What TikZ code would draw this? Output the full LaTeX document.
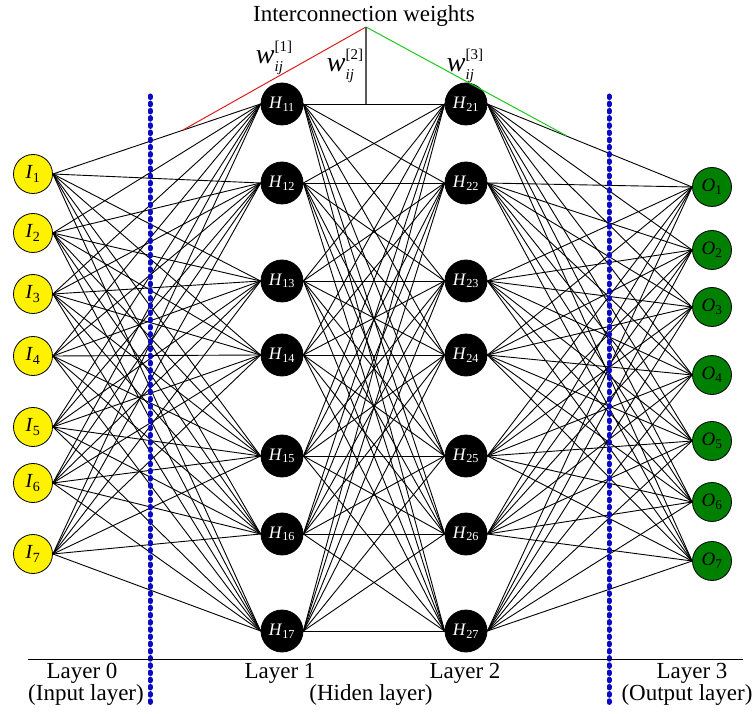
\documentclass[tikz,border=0pt]{standalone}
\usepackage{fontspec}
\setmainfont{Liberation Serif}
\definecolor{sepblue}{RGB}{10,10,195}
\definecolor{wred}{RGB}{220,30,30}
\definecolor{wgreen}{RGB}{30,200,30}
\definecolor{outgreen}{RGB}{0,128,0}
% weight symbol w_{ij}^{[k]} set in text fonts
\newcommand\wlabel[1]{\textit{w}\makebox[0pt][l]{\raisebox{-0.3em}{\fontsize{15}{15}\selectfont\textit{ij}}}\raisebox{0.42em}{\fontsize{15}{15}\selectfont[#1]}}
\begin{document}
\begin{tikzpicture}[x=1pt,y=-1pt,
  neuron/.style={circle,draw=black,line width=0.8pt,inner sep=0pt},
  inp/.style={neuron,fill=yellow,minimum size=39pt,font=\fontsize{20}{20}\selectfont},
  hid/.style={neuron,fill=black,text=white,minimum size=42pt,font=\fontsize{17.5}{17.5}\selectfont},
  outp/.style={neuron,fill=outgreen,minimum size=39pt,font=\fontsize{19}{19}\selectfont},
  link/.style={line width=0.9pt},
  sep/.style={sepblue,line width=5pt,line cap=round,dash pattern=on 1.6pt off 5.6pt},
  lbl/.style={font=\fontsize{23}{23}\selectfont,inner sep=0pt},
  wlbl/.style={font=\fontsize{28}{28}\selectfont,inner sep=0pt}
]
\useasboundingbox (0,0) rectangle (756,714);

% neurons
\foreach \y [count=\i] in {174,233,294,356,427,483,554}
  \node[inp] (I\i) at (33,\y) {\textit{I}\textsubscript{\i}};
\foreach \y [count=\i] in {104,183,281,355,456,534,631}
  \node[hid] (H1\i) at (282,\y) {\textit{H}\textsubscript{1\i}};
\foreach \y [count=\i] in {104,183,281,355,456,534,631}
  \node[hid] (H2\i) at (466,\y) {\textit{H}\textsubscript{2\i}};
\foreach \y [count=\i] in {187,250,307,375,441,502,561}
  \node[outp] (O\i) at (712,\y) {\textit{O}\textsubscript{\i}};

% fully connected layers
\foreach \a in {1,...,7}
  \foreach \b in {1,...,7} {
    \draw[link] (I\a.east) -- (H1\b.west);
    \draw[link] (H1\a.east) -- (H2\b.west);
    \draw[link] (H2\a.east) -- (O\b.west);
  }

% interconnection weights annotation
\node[lbl] (title) at (364,16) {Interconnection weights};
\coordinate (apex) at (366,27);
\coordinate (wend1) at (183,130);
\coordinate (wend3) at (567,136);
\draw[wred,line width=1pt] (apex) -- (wend1);
\draw[wgreen,line width=1pt] (apex) -- (wend3);
\draw[black!65,line width=1.2pt] (apex) -- (apex |- H11.east);
\node[wlbl] (w1) at (274,58) {\wlabel{1}};
\node[wlbl] (w2) at (345,66) {\wlabel{2}};
\node[wlbl] (w3) at (465,66) {\wlabel{3}};

% layer separators
\draw[sep] (150,96) -- (150,706);
\draw[sep] (609,96) -- (609,706);
\draw[line width=1pt] (28,659) -- (743,659);

% layer captions
\node[lbl] (L0) at (82,673) {Layer 0};
\node[lbl] (L0b) at (86,695) {(Input layer)};
\node[lbl] (L1) at (280,673) {Layer 1};
\node[lbl] (Lh) at (371,695) {(Hiden layer)};
\node[lbl] (L2) at (465,673) {Layer 2};
\node[lbl] (L3) at (692,673) {Layer 3};
\node[lbl] (L3b) at (687,695) {(Output layer)};
\end{tikzpicture}
\end{document}
